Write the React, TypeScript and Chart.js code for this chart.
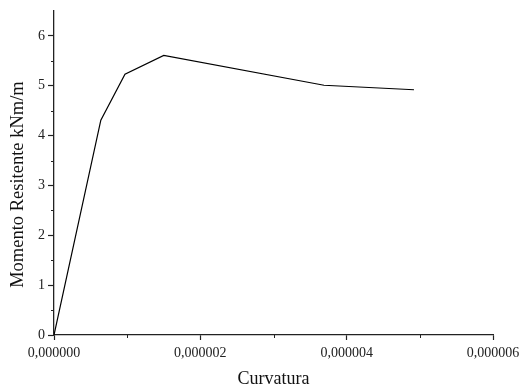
import React, { useEffect, useRef } from "react";
import { Chart, registerables } from "chart.js";

Chart.register(...registerables);

const curvature = [0, 0.00000064, 0.00000097, 0.0000015, 0.00000369, 0.00000492];
const moment = [0, 4.31, 5.23, 5.61, 5.01, 4.92];
const xMajorTicks = [0, 0.000002, 0.000004, 0.000006];
const xMinorTicks = [0.000001, 0.000003, 0.000005];
const yMajorTicks = [0, 1, 2, 3, 4, 5, 6];
const yMinorTicks = [0.5, 1.5, 2.5, 3.5, 4.5, 5.5];
const xTitle = "Curvatura";
const yTitle = "Momento Resitente kNm/m";

const FONT = "'Liberation Serif', 'Times New Roman', serif";
const AXIS_COLOR = "#222";

const minorTickPlugin = {
  id: "minorTicks",
  afterDraw(chart: any) {
    const ctx = chart.ctx;
    const xs = chart.scales.x;
    const ys = chart.scales.y;
    const area = chart.chartArea;
    ctx.save();
    ctx.strokeStyle = AXIS_COLOR;
    ctx.lineWidth = 1;
    ctx.beginPath();
    xMinorTicks.forEach((v) => {
      const px = Math.round(xs.getPixelForValue(v)) + 0.5;
      ctx.moveTo(px, area.bottom);
      ctx.lineTo(px, area.bottom + 3);
    });
    yMinorTicks.forEach((v) => {
      const py = Math.round(ys.getPixelForValue(v)) + 0.5;
      ctx.moveTo(area.left, py);
      ctx.lineTo(area.left - 3, py);
    });
    ctx.stroke();
    ctx.restore();
  },
};

export default function App() {
  const ref = useRef<HTMLCanvasElement | null>(null);
  useEffect(() => {
    if (!ref.current) return;
    const chart = new Chart(ref.current, {
      type: "scatter",
      data: {
        datasets: [
          {
            data: curvature.map((x, i) => ({ x, y: moment[i] })),
            showLine: true,
            borderColor: "#000",
            borderWidth: 1.2,
            pointRadius: 0,
            fill: false,
            tension: 0,
          },
        ],
      },
      options: {
        animation: false,
        responsive: false,
        maintainAspectRatio: false,
        layout: { padding: { top: 11, right: 27, left: 0, bottom: 0 } },
        plugins: { legend: { display: false }, tooltip: { enabled: false } },
        scales: {
          x: {
            type: "linear",
            min: 0,
            max: 0.000006,
            afterBuildTicks: (s: any) => {
              s.ticks = xMajorTicks.map((value) => ({ value }));
            },
            afterFit: (s: any) => {
              s.height = 55;
              s.paddingRight = 0;
              s.paddingLeft = 0;
            },
            border: { display: true, color: AXIS_COLOR, width: 1.3 },
            grid: {
              drawOnChartArea: false,
              drawTicks: true,
              tickLength: 5,
              tickColor: AXIS_COLOR,
              tickWidth: 1.2,
            },
            ticks: {
              color: "#222",
              font: { family: FONT, size: 14 },
              padding: 5,
              maxRotation: 0,
              autoSkip: false,
              callback: (v: any) => Number(v).toFixed(6).replace(".", ","),
            },
            title: {
              display: true,
              text: xTitle,
              color: "#111",
              font: { family: FONT, size: 18 },
              padding: { top: 0, bottom: 0 },
            },
          },
          y: {
            type: "linear",
            min: 0,
            max: 6.5,
            afterBuildTicks: (s: any) => {
              s.ticks = yMajorTicks.map((value) => ({ value }));
            },
            afterFit: (s: any) => {
              s.width = 54;
              s.paddingTop = 0;
              s.paddingBottom = 0;
            },
            border: { display: true, color: AXIS_COLOR, width: 1.3 },
            grid: {
              drawOnChartArea: false,
              drawTicks: true,
              tickLength: 6,
              tickColor: AXIS_COLOR,
              tickWidth: 1.2,
            },
            ticks: {
              color: "#222",
              font: { family: FONT, size: 14 },
              padding: 3,
              autoSkip: false,
              callback: (v: any) => String(Math.round(Number(v))),
            },
            title: {
              display: true,
              text: yTitle + "     ",
              color: "#111",
              font: { family: FONT, size: 18.5 },
              padding: { top: 7, bottom: 0 },
            },
          },
        },
      },
      plugins: [minorTickPlugin],
    });
    return () => chart.destroy();
  }, []);
  return (
    <div style={{ position: "absolute", left: 0, top: 0, width: 520, height: 390, background: "#fff" }}>
      <canvas ref={ref} width={520} height={390} style={{ width: 520, height: 390 }} />
    </div>
  );
}
